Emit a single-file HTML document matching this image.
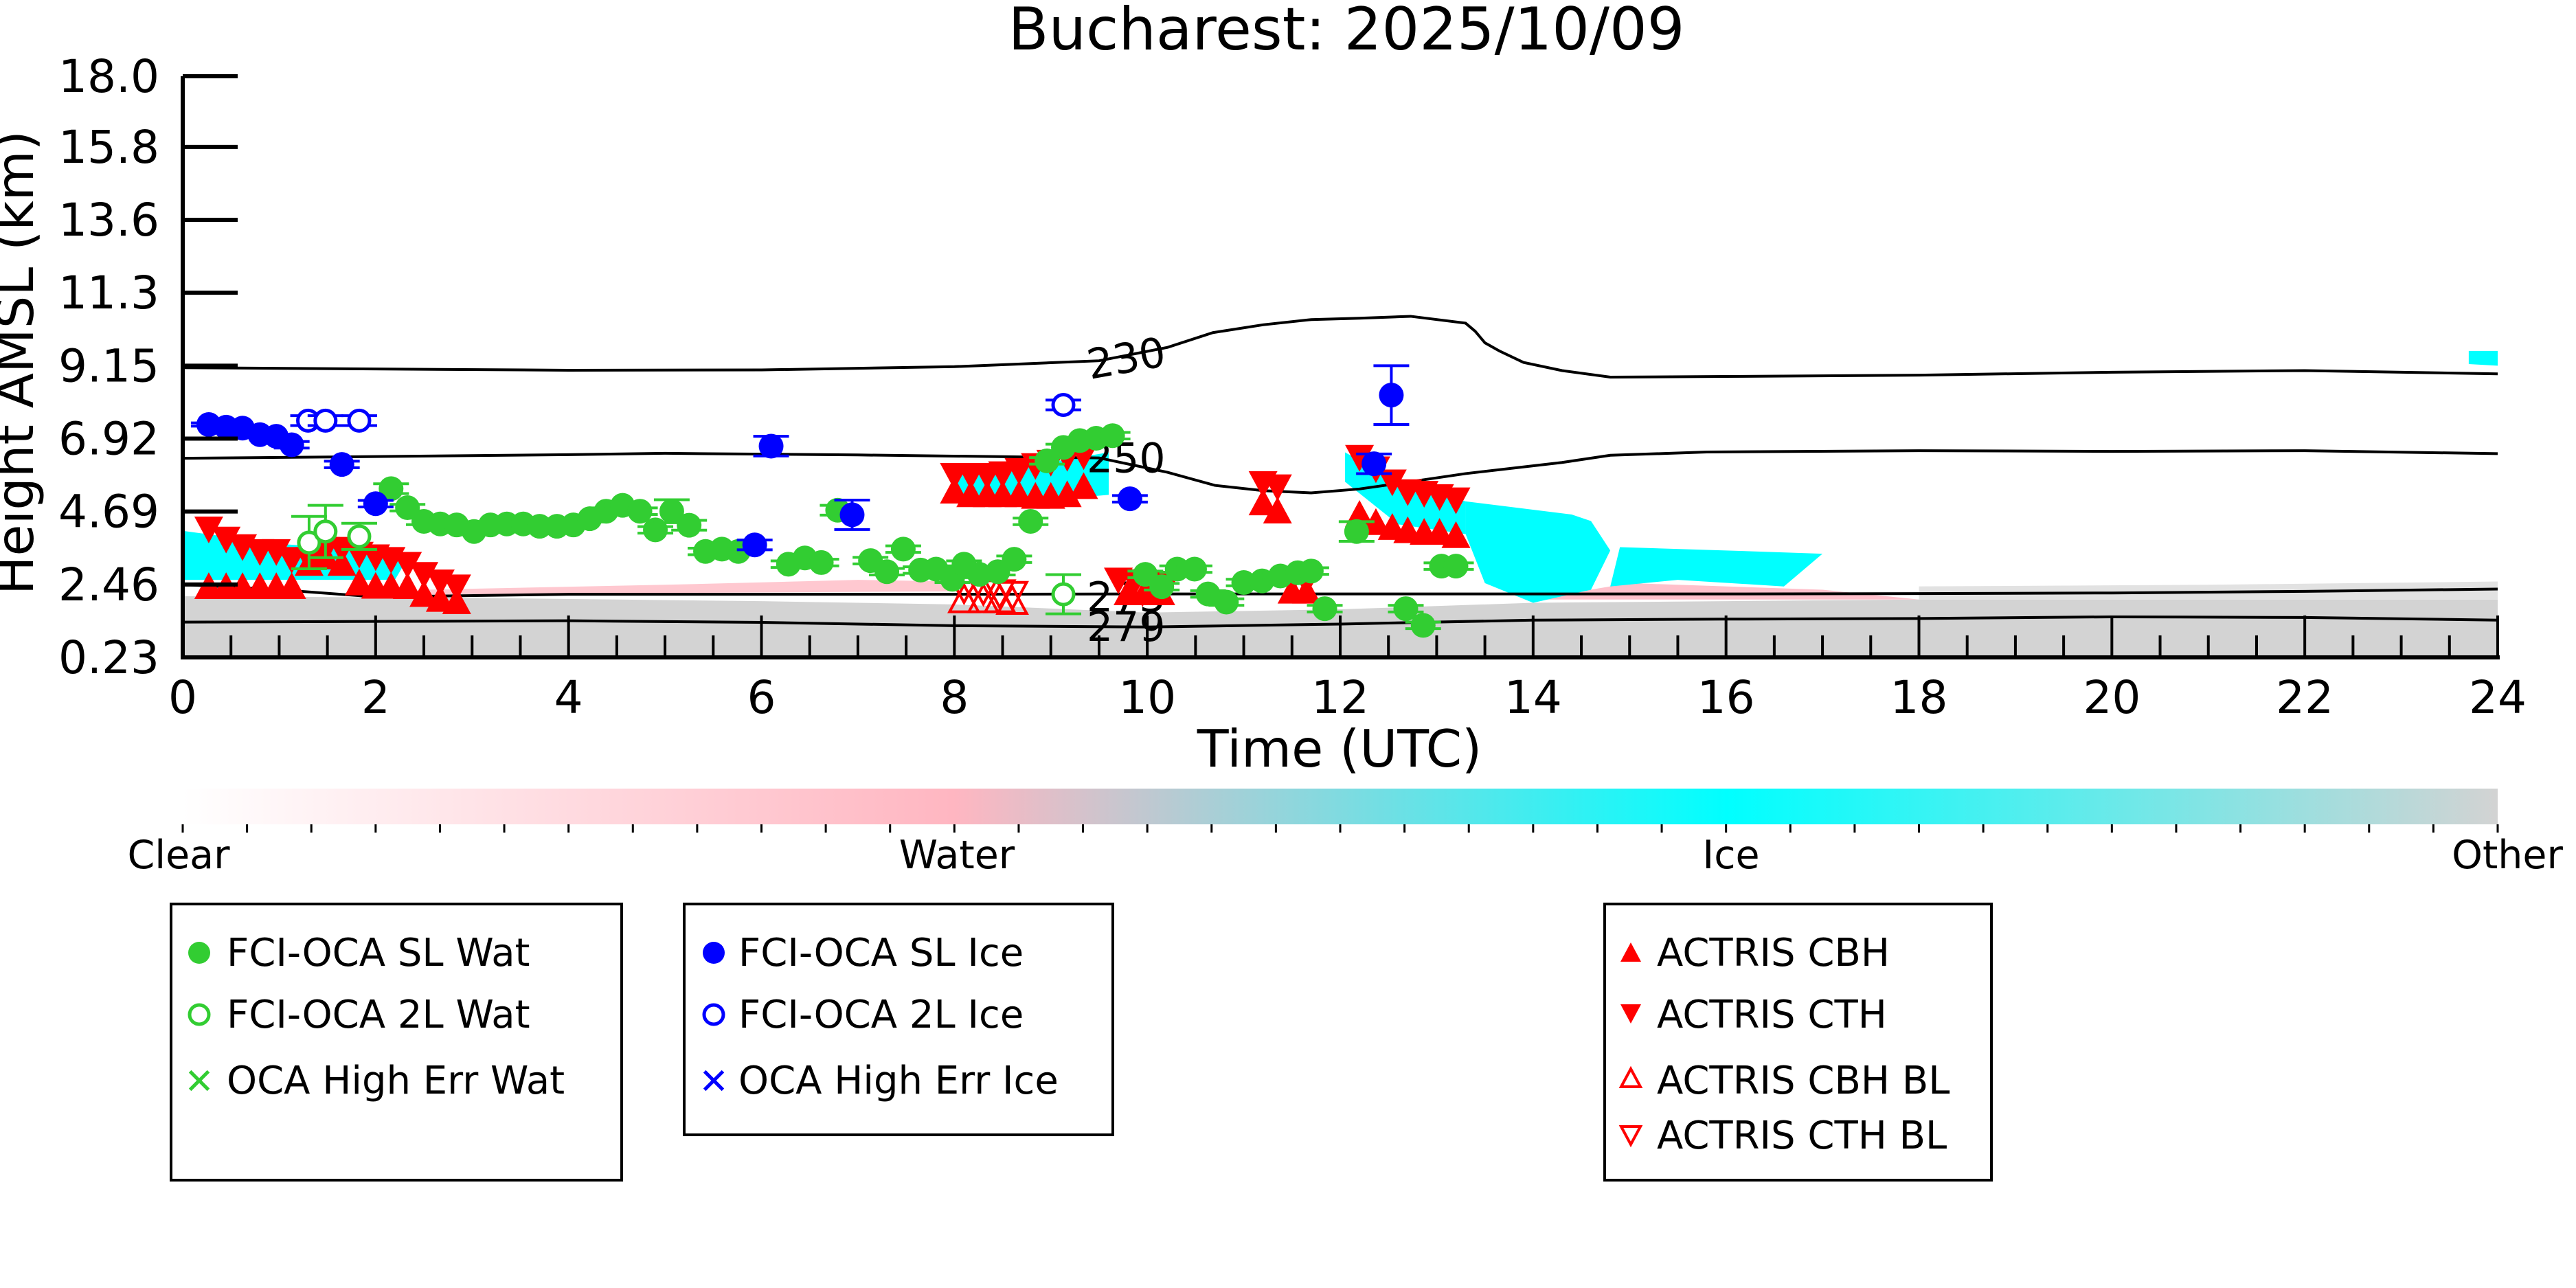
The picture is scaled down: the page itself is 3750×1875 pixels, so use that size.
<!DOCTYPE html>
<html><head><meta charset="utf-8">
<style>
html,body{margin:0;padding:0;background:#fff;}
svg{display:block;font-family:"DejaVu Sans","Liberation Sans",sans-serif;}
</style></head>
<body>
<svg id="chart" width="3750" height="1875" viewBox="0 0 3750 1875" xmlns="http://www.w3.org/2000/svg">
<defs>
<linearGradient id="cbg" x1="0" x2="1" y1="0" y2="0">
<stop offset="0" stop-color="#ffffff"/>
<stop offset="0.333" stop-color="#ffb6c1"/>
<stop offset="0.667" stop-color="#00ffff"/>
<stop offset="1" stop-color="#d3d3d3"/>
</linearGradient>
<clipPath id="plotclip"><rect x="266" y="111" width="3370" height="846"/></clipPath>
</defs>
<text x="1960" y="72" font-size="86" text-anchor="middle">Bucharest: 2025/10/09</text>
<g id="bg" clip-path="url(#plotclip)"></g>
<g id="contours"></g>
<g id="marks"></g>
<g id="axes"></g>
<text x="1950" y="1116" font-size="75" text-anchor="middle">Time (UTC)</text>
<text transform="translate(48,528) rotate(-90)" font-size="75" text-anchor="middle">Height AMSL (km)</text>
<g id="colorbar">
<rect x="266" y="1148" width="3384" height="52" fill="url(#cbg)"/>
<text x="260" y="1264" font-size="57" text-anchor="middle">Clear</text>
<text x="1393" y="1264" font-size="57" text-anchor="middle">Water</text>
<text x="2520" y="1264" font-size="57" text-anchor="middle">Ice</text>
<text x="3650" y="1264" font-size="57" text-anchor="middle">Other</text>
</g>
<g id="legend-water">
<rect x="249" y="1316" width="656" height="402" fill="#fff" stroke="#000" stroke-width="4"/>
<circle cx="290" cy="1387" r="16" fill="#32cd32"/>
<text x="330" y="1406" font-size="56">FCI-OCA SL Wat</text>
<circle cx="290" cy="1477" r="14" fill="none" stroke="#32cd32" stroke-width="5"/>
<text x="330" y="1496" font-size="56">FCI-OCA 2L Wat</text>
<text x="290" y="1592" font-size="52" fill="#32cd32" text-anchor="middle">✕</text>
<text x="330" y="1592" font-size="56">OCA High Err Wat</text>
</g>
<g id="legend-ice">
<rect x="996" y="1316" width="624" height="336" fill="#fff" stroke="#000" stroke-width="4"/>
<circle cx="1039" cy="1387" r="16" fill="#0000ff"/>
<text x="1075" y="1406" font-size="56">FCI-OCA SL Ice</text>
<circle cx="1039" cy="1477" r="14" fill="none" stroke="#0000ff" stroke-width="5"/>
<text x="1075" y="1496" font-size="56">FCI-OCA 2L Ice</text>
<text x="1039" y="1592" font-size="52" fill="#0000ff" text-anchor="middle">✕</text>
<text x="1075" y="1592" font-size="56">OCA High Err Ice</text>
</g>
<g id="legend-actris">
<rect x="2336" y="1316" width="563" height="402" fill="#fff" stroke="#000" stroke-width="4"/>
<polygon points="2374,1372 2389,1400 2359,1400" fill="#ff0000"/>
<text x="2412" y="1406" font-size="56">ACTRIS CBH</text>
<polygon points="2359,1462 2389,1462 2374,1490" fill="#ff0000"/>
<text x="2412" y="1496" font-size="56">ACTRIS CTH</text>
<polygon points="2374,1556 2388,1582 2360,1582" fill="none" stroke="#ff0000" stroke-width="4"/>
<text x="2412" y="1592" font-size="56">ACTRIS CBH BL</text>
<polygon points="2360,1640 2388,1640 2374,1666" fill="none" stroke="#ff0000" stroke-width="4"/>
<text x="2412" y="1672" font-size="56">ACTRIS CTH BL</text>
</g>
</svg>
<script>
// ---- data ----
const yTickLabels = ["0.23","2.46","4.69","6.92","9.15","11.3","13.6","15.8","18.0"];
const yTickValues = [0.23,2.46,4.69,6.92,9.15,11.38,13.61,15.84,18.0];
const xTickValues = [0,2,4,6,8,10,12,14,16,18,20,22,24];

const slIceT = [0.27,0.45,0.62,0.80,0.97,1.13,1.65,2.0,5.93,6.1,6.94,9.82,12.35,12.53];
const slIceH = [7.35,7.27,7.24,7.04,6.99,6.73,6.13,4.93,3.67,6.69,4.59,5.08,6.15,8.25];
const slIceErr = [0.05,0.05,0.05,0.05,0.05,0.1,0.1,0.1,0.15,0.3,0.45,0.1,0.3,0.9];
const l2IceT = [1.3,1.48,1.83,9.13];
const l2IceH = [7.47,7.47,7.47,7.95];
const l2IceErr = [0.15,0.15,0.15,0.15];

const slWatT = [2.16,2.33,2.5,2.67,2.84,3.02,3.19,3.36,3.53,3.7,3.88,4.05,4.22,4.39,4.56,4.74,4.9,5.07,5.25,5.42,5.59,5.76,6.28,6.45,6.62,6.79,7.13,7.3,7.47,7.65,7.81,7.98,8.1,8.26,8.45,8.62,8.79,8.96,9.13,9.3,9.47,9.64,9.98,10.15,10.31,10.49,10.63,10.82,11.0,11.19,11.38,11.56,11.7,11.84,12.17,12.68,12.86,13.05,13.2];
const slWatH = [5.39,4.81,4.39,4.31,4.28,4.08,4.28,4.31,4.31,4.24,4.24,4.28,4.47,4.7,4.88,4.7,4.13,4.7,4.27,3.47,3.54,3.47,3.08,3.27,3.13,4.73,3.19,2.85,3.54,2.9,2.93,2.62,3.08,2.77,2.85,3.23,4.39,6.24,6.65,6.86,6.93,7.01,2.77,2.39,2.93,2.93,2.17,1.92,2.52,2.57,2.72,2.82,2.87,1.72,4.08,1.72,1.21,3.02,3.02];
const slWatErr = [0.15,0.1,0.1,0.1,0.1,0.1,0.1,0.1,0.1,0.1,0.1,0.1,0.1,0.1,0.1,0.1,0.1,0.35,0.15,0.1,0.1,0.1,0.1,0.1,0.1,0.15,0.1,0.1,0.1,0.1,0.1,0.1,0.1,0.1,0.1,0.1,0.1,0.1,0.1,0.1,0.1,0.1,0.1,0.1,0.1,0.1,0.1,0.1,0.1,0.1,0.1,0.1,0.1,0.1,0.3,0.1,0.1,0.1,0.1];
const l2WatT = [1.31,1.48,1.83,9.13];
const l2WatH = [3.74,4.08,3.93,2.16];
const l2WatErr = [0.8,0.8,0.4,0.6];

const cthT = [0.27,0.45,0.62,0.80,0.97,1.13,1.31,1.48,1.65,1.83,2.0,2.16,2.33,2.5,2.67,2.84,8.0,8.17,8.34,8.5,8.67,8.84,9.0,9.17,9.34,9.7,9.87,10.04,10.2,11.2,11.35,11.5,11.65,12.2,12.37,12.54,12.7,12.87,13.03,13.2];
const cthH = [4.16,3.85,3.62,3.47,3.47,3.23,3.23,3.54,3.54,3.39,3.31,3.23,3.08,2.77,2.54,2.39,5.8,5.8,5.8,5.85,5.95,6.1,6.2,6.35,6.4,2.6,2.55,2.5,2.5,5.55,5.45,2.6,2.55,6.35,6.0,5.6,5.3,5.25,5.15,5.05];
const cbhT = [0.27,0.45,0.62,0.80,0.97,1.13,1.31,1.48,1.65,1.83,2.0,2.16,2.33,2.5,2.67,2.84,8.0,8.17,8.34,8.5,8.67,8.84,9.0,9.17,9.34,9.8,9.97,10.14,11.2,11.35,11.5,11.65,12.2,12.37,12.54,12.7,12.87,13.03,13.2];
const cbhH = [2.39,2.39,2.39,2.39,2.39,2.39,3.1,3.3,3.1,2.5,2.4,2.4,2.39,2.15,2.0,1.93,5.31,5.2,5.2,5.2,5.2,5.15,5.15,5.2,5.45,2.2,2.2,2.2,4.95,4.7,2.25,2.25,4.6,4.35,4.2,4.1,4.05,4.05,3.95];
const cbhBlT = [8.1,8.3,8.47,8.6];
const cbhBlH = [2.0,2.0,2.0,1.95];
const cthBlT = [8.1,8.3,8.47,8.6,9.95];
const cthBlH = [2.35,2.3,2.2,2.15,2.3];

const c230T = [0,2,4,6,8,9,9.5,10.21,10.68,11.2,11.7,12.2,12.73,13.3,13.4,13.5,13.65,13.9,14.3,14.8,16,18,20,22,24];
const c230H = [9.09,9.05,9.01,9.02,9.12,9.24,9.3,9.71,10.16,10.4,10.56,10.6,10.66,10.45,10.2,9.85,9.6,9.25,9.0,8.8,8.82,8.86,8.95,9.0,8.9];
const c250T = [0,2,4,5,7,9,9.5,10.21,10.7,11.2,11.7,12.2,12.7,13.3,14.3,14.8,15.8,18,20,22,24];
const c250H = [6.32,6.37,6.43,6.47,6.42,6.35,6.33,5.89,5.49,5.33,5.26,5.38,5.59,5.85,6.19,6.41,6.51,6.55,6.53,6.55,6.46];
const c273T = [0,1,2,4,6,8,10,12,14,16,18,20,22,24];
const c273H = [2.46,2.3,2.08,2.16,2.16,2.16,2.17,2.17,2.17,2.17,2.18,2.2,2.25,2.32];
const c279T = [0,2,4,6,8,10,12,14,16,18,20,22,24];
const c279H = [1.31,1.33,1.35,1.3,1.2,1.16,1.25,1.37,1.4,1.42,1.47,1.45,1.37];

// ---- axes ----
const X0=266,X1=3636,Y0=957,Y1=111,H0=0.23,H1=18.0;
function sx(t){return X0+(t/24)*(X1-X0);}
function sy(h){return Y0-(h-H0)/(H1-H0)*(Y0-Y1);}
const NS="http://www.w3.org/2000/svg";
function mk(tag,parent,attrs){const e=document.createElementNS(NS,tag);for(const k in attrs)e.setAttribute(k,attrs[k]);parent.appendChild(e);return e;}

// ---- background cloud classification (approximate regions) ----
const bg=document.getElementById('bg');
function region(pts,fill,name){
  const p=mk('polygon',bg,{points:pts.map(q=>sx(q[0])+','+sy(q[1])).join(' '),fill:fill});
  
  
}
region([[0,0.23],[0,2.1],[3,2.05],[6,1.95],[8,1.85],[10,1.6],[12,1.7],[14,1.9],[18,2.0],[24,2.0],[24,0.23]],'#d3d3d3','other-region');
region([[18,2.0],[18,2.4],[21,2.45],[24,2.55],[24,2.0]],'#e2e2e2','other-speckle-region');
region([[2.5,2.15],[2.5,2.3],[5,2.45],[7,2.6],[8,2.55],[8,2.25],[5,2.2]],'#ffc8d0','water-region-1');
region([[14,2.0],[15,2.5],[17,2.3],[18,2.0]],'#ffc0cb','water-region-2');
region([[0,2.6],[0,4.1],[1,3.7],[2,3.5],[2.3,3.1],[2.2,2.6]],'#00ffff','ice-region-1');
region([[8.0,5.0],[8.0,5.9],[9.0,6.2],[9.6,6.5],[9.6,5.2],[9.0,5.05]],'#00ffff','ice-region-2');
region([[12.05,6.5],[12.05,5.6],[12.6,4.3],[13.3,4.0],[13.3,5.0],[12.6,5.6]],'#00ffff','ice-region-3');
region([[13.3,4.0],[13.3,5.0],[14.4,4.6],[14.6,4.4],[14.8,3.5],[14.6,2.3],[14.0,1.9],[13.5,2.5]],'#00ffff','ice-region-4');
region([[14.8,2.4],[14.9,3.6],[16.0,3.5],[17.0,3.4],[16.6,2.4],[15.5,2.6]],'#00ffff','ice-region-5');
region([[23.7,9.2],[23.7,9.6],[24,9.6],[24,9.15]],'#00ffff','ice-region-6');

// ---- contours ----
const cg=document.getElementById('contours');
function contour(T,H,name){
  const p=mk('polyline',cg,{points:T.map((t,i)=>sx(t)+','+sy(H[i])).join(' '),fill:'none',stroke:'#000','stroke-width':4});
  
  
}
contour(c230T,c230H,'contour-230');
contour(c250T,c250H,'contour-250');
contour(c273T,c273H,'contour-273');
contour(c279T,c279H,'contour-279');
function clabel(txt,t,h,rot,name){
  const e=mk('text',cg,{x:sx(t),y:sy(h)+22,'font-size':60,'text-anchor':'middle',transform:'rotate('+rot+' '+sx(t)+' '+sy(h)+')'});
  e.textContent=txt;
  
  
}
clabel('230',9.78,9.4,-10,'contour-label-230');
clabel('250',9.78,6.35,0,'contour-label-250');
clabel('273',9.78,2.1,0,'contour-label-273');
clabel('279',9.78,1.2,0,'contour-label-279');

// ---- markers ----
const mg=document.getElementById('marks');
function errbar(t,h,e,col){
  mk('line',mg,{x1:sx(t),x2:sx(t),y1:sy(h-e),y2:sy(h+e),stroke:col,'stroke-width':4});
  mk('line',mg,{x1:sx(t)-26,x2:sx(t)+26,y1:sy(h-e),y2:sy(h-e),stroke:col,'stroke-width':4});
  mk('line',mg,{x1:sx(t)-26,x2:sx(t)+26,y1:sy(h+e),y2:sy(h+e),stroke:col,'stroke-width':4});
}
function tri(T,H,up,filled,name){
  T.forEach((t,i)=>{
    const x=sx(t),y=sy(H[i]),s=21;
    const pts=up?[[x,y-s],[x+s,y+s*0.85],[x-s,y+s*0.85]]:[[x-s,y-s*0.85],[x+s,y-s*0.85],[x,y+s]];
    const p=mk('polygon',mg,{points:pts.map(q=>q.join(',')).join(' '),fill:filled?'#ff0000':'none',stroke:'#ff0000','stroke-width':filled?0:4});
    
    
  });
}
function dots(T,H,E,col,filled,name){
  T.forEach((t,i)=>{
    errbar(t,H[i],E[i],col);
    const c=mk('circle',mg,{cx:sx(t),cy:sy(H[i]),r:filled?18:15,fill:filled?col:'#fff',stroke:col,'stroke-width':filled?0:5});
    
    
  });
}
tri(cbhT,cbhH,true,true,'actris-cbh');
tri(cthT,cthH,false,true,'actris-cth');
tri(cbhBlT,cbhBlH,true,false,'actris-cbh-bl');
tri(cthBlT,cthBlH,false,false,'actris-cth-bl');
dots(slWatT,slWatH,slWatErr,'#32cd32',true,'sl-water-point');
dots(l2WatT,l2WatH,l2WatErr,'#32cd32',false,'2l-water-point');
dots(slIceT,slIceH,slIceErr,'#0000ff',true,'sl-ice-point');
dots(l2IceT,l2IceH,l2IceErr,'#0000ff',false,'2l-ice-point');

// ---- axes drawing ----
const ag=document.getElementById('axes');
mk('line',ag,{x1:X0,x2:X0,y1:Y1,y2:Y0+3,stroke:'#000','stroke-width':6});
mk('line',ag,{x1:X0-3,x2:X1+3,y1:Y0,y2:Y0,stroke:'#000','stroke-width':6});
mk('line',ag,{x1:X1,x2:X1,y1:Y0,y2:Y0-61,stroke:'#000','stroke-width':4});
yTickValues.forEach((v,i)=>{
  mk('line',ag,{x1:X0,x2:X0+80,y1:sy(v),y2:sy(v),stroke:'#000','stroke-width':6});
  const tx=mk('text',ag,{x:232,y:sy(v)+23,'font-size':66,'text-anchor':'end'});
  tx.textContent=yTickLabels[i];
  
  
});
xTickValues.forEach(v=>{
  mk('line',ag,{x1:sx(v),x2:sx(v),y1:Y0,y2:Y0-61,stroke:'#000','stroke-width':4});
  const tx=mk('text',ag,{x:sx(v),y:1038,'font-size':66,'text-anchor':'middle'});
  tx.textContent=String(v);
  
  
});
for(let m=0.5;m<24;m+=0.5){
  if(m%2===0)continue;
  mk('line',ag,{x1:sx(m),x2:sx(m),y1:Y0,y2:Y0-32,stroke:'#000','stroke-width':4});
}
// colorbar geometry + ticks
const cb=document.getElementById('colorbar');
cb.querySelector('rect').setAttribute('width',X1-X0);
for(let i=0;i<=36;i++){
  const x=X0+i*((X1-X0)/36);
  mk('line',cb,{x1:x,x2:x,y1:1200,y2:1212,stroke:'#000','stroke-width':3});
}
</script>
</body></html>
